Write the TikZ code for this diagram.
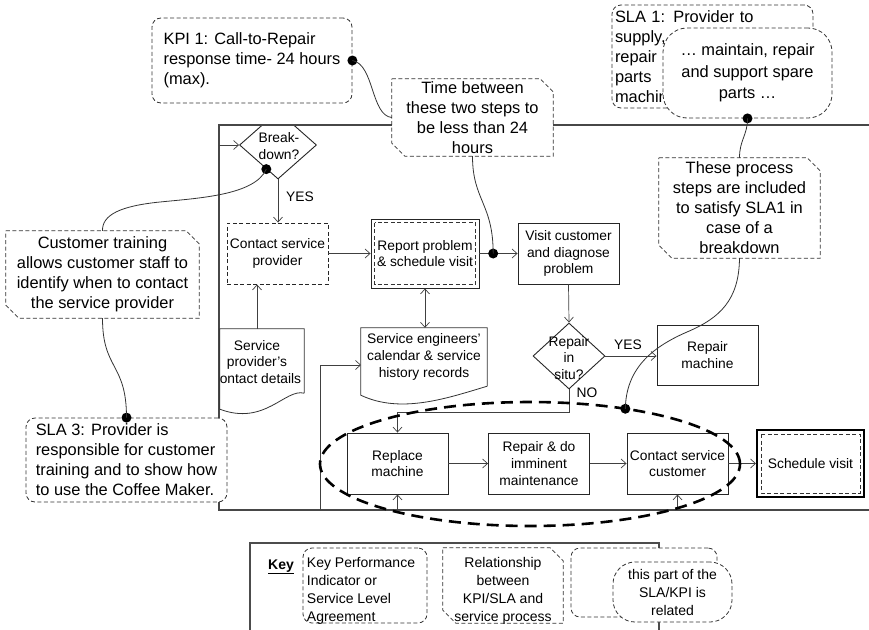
\documentclass[tikz,border=0pt]{standalone}
\usepackage{fontspec}
\setmainfont{Liberation Sans}
\usetikzlibrary{arrows.meta,calc,shapes.geometric}
\newcommand\procfont{\fontsize{13.8}{16.8}\selectfont}
\newcommand\callfont{\fontsize{16.4}{20}\selectfont}
\newcommand\bubblefont{\fontsize{16.4}{21.5}\selectfont}
\newcommand\keyfont{\fontsize{14}{18}\selectfont}
% dashed outline with the top-right and bottom-left corners cut off
\newcommand\cutframe[1]{\draw[cutline] (#1.north west) -- ([xshift=-13pt]#1.north east) -- ([yshift=-13pt]#1.north east) -- (#1.south east) -- ([xshift=13pt]#1.south west) -- ([yshift=13pt]#1.south west) -- cycle;}
\begin{document}
\begin{tikzpicture}[x=1pt,y=-1pt,
  lnk/.style={draw=black!80,line width=0.8pt},
  framel/.style={draw=black!72,line width=1.4pt},
  arr/.style={draw=black!75,line width=0.7pt,-{Straight Barb[length=5pt,width=9pt]}},
  biarr/.style={draw=black!75,line width=0.7pt,{Straight Barb[length=5pt,width=9pt]}-{Straight Barb[length=5pt,width=9pt]}},
  cdash/.style={dash pattern=on 4pt off 2.5pt},
  proc/.style={draw=black!85,line width=0.9pt,fill=white,minimum width=101pt,minimum height=61pt,inner sep=1pt,align=center,font=\procfont},
  dproc/.style={proc,cdash},
  innerdash/.style={draw=black!80,line width=0.8pt,cdash},
  ptext/.style={inner sep=0pt,align=center,font=\procfont},
  pad/.style={inner sep=0pt},
  dia/.style={draw=black!85,line width=0.9pt,fill=white,diamond,inner sep=0pt},
  callout/.style={draw=black!80,line width=0.8pt,cdash,rounded corners=9pt,fill=white,font=\callfont,align=left,inner sep=0pt},
  cutnode/.style={fill=white,font=\callfont,align=center,inner sep=0pt},
  cutline/.style={draw=black!80,line width=0.8pt,cdash},
  bubble/.style={draw=black!80,line width=0.8pt,cdash,rounded corners=24pt,fill=white,font=\bubblefont,align=center,inner sep=0pt},
  blob/.style={circle,fill=black,inner sep=0pt,minimum size=10pt},
  bigdash/.style={draw=black,line width=2.6pt,dash pattern=on 12pt off 7pt},
]
\useasboundingbox (0,0) rectangle (869,629);

% decision at the top edge of the process frame
\begin{scope}
  \clip (200,125) rectangle (340,200);
  \node[dia,minimum width=77pt,minimum height=68pt] (bd) at (278,145) {};
\end{scope}

% process frame
\coordinate (ftl) at (219,125);
\coordinate (ftr) at (869,125);
\coordinate (fbl) at (219,510);
\coordinate (fbr) at (869,510);
\draw[framel] (ftr) -- (ftl) -- (fbl) -- (fbr);

\node[ptext] (bdt) at (279,146) {Break-\\down?};

% process steps
\node[dproc] (csp) at (277.5,253.5) {Contact service\\provider};
\node[proc,minimum width=108pt,minimum height=69pt] (rep) at (425,253.5) {Report problem\\\& schedule visit};
\draw[innerdash] ([shift={(4pt,-4pt)}]rep.north west) rectangle ([shift={(-4pt,4pt)}]rep.south east);
\node[proc] (visit) at (568.5,253.5) {Visit customer\\and diagnose\\problem};
\node[dia,minimum width=72pt,minimum height=66pt] (ris) at (569,356) {};
\node[ptext] (rist) at (569,358) {Repair\\in\\situ?};
\node[proc,minimum height=60pt] (rm) at (707.5,355) {Repair\\machine};
\node[proc] (repl) at (397.5,463.5) {Replace\\machine};
\node[proc] (rdo) at (539,463.5) {Repair \& do\\imminent\\maintenance};
\node[proc] (csc) at (677.5,463.5) {Contact service\\customer};
\node[proc,draw=black,line width=2pt,minimum width=107pt,minimum height=67pt] (sv) at (810.5,463.5) {Schedule visit};
\draw[innerdash] ([shift={(5pt,-5pt)}]sv.north west) rectangle ([shift={(-5pt,5pt)}]sv.south east);

% documents
\node[pad,minimum width=84pt,minimum height=64pt] (spcd) at (262,361) {};
\begin{scope}
  \clip (220.5,320) rectangle (310,420);
  \node[ptext] (spcdt) at (257,362) {Service\\provider's\\contact details};
\end{scope}
\draw[lnk] (spcd.south east) -- (spcd.north east) -- (spcd.north west) -- ([yshift=-16pt]spcd.south west) .. controls +(45,17) and +(-19,-5) .. (spcd.south east);
\node[pad,minimum width=126pt,minimum height=58pt,font=\procfont,align=center] (cal) at (424,357) {Service engineers’\\calendar \& service\\history records};
\draw[lnk] (cal.south east) -- (cal.north east) -- (cal.north west) -- ([yshift=-9pt]cal.south west) .. controls +(40,19) and +(-40,12) .. (cal.south east);

% flow
\draw[arr] (bd.west -| ftl) -- (bd.west);
\draw[arr] (bd.south) -- (bd.south |- csp.north);
\node[ptext] (yes1) at (300,197) {YES};
\draw[arr] (spcdt.center |- spcd.north) -- (spcdt.center |- csp.south);
\draw[arr] (csp.east) -- (rep.west);
\draw[arr] (rep.east) -- (visit.west);
\draw[biarr] (rep.south) -- (rep.south |- cal.north);
\coordinate (calfeed) at (320,510);
\coordinate (calin) at (361,365);
\draw[arr] (calfeed) |- (calin);
\draw[arr] (visit.south) -- (ris.north);
\draw[arr] (ris.east) -- (ris.east -| rm.west);
\node[ptext] (yes2) at (628,345) {YES};
\draw[arr] (ris.south) -- ++(0,23) -| (repl.north);
\node[ptext] (no) at (587,393) {NO};
\draw[arr] (repl.south |- fbl) -- (repl.south);
\draw[arr] (repl.east) -- (rdo.west);
\draw[arr] (rdo.east) -- (csc.west);
\draw[arr] (csc.south |- fbl) -- (csc.south);
\draw[arr] (csc.east) -- (sv.west);

% group of steps covered by SLA 1
\coordinate (ellc) at (530,464);
\draw[bigdash] (ellc) ellipse [x radius=210pt, y radius=62pt];

% KPI / SLA notes
\node[callout,minimum width=200pt,minimum height=85pt] (kpi) at (252,60.5) {KPI 1: Call-to-Repair\\response time- 24 hours\\(max).};
\node[cutnode,minimum width=161pt,minimum height=77pt] (time) at (472.5,117.5) {Time between\\these two steps to\\be less than 24\\hours};
\cutframe{time}
\node[callout,minimum width=201pt,minimum height=103pt,text width=195pt,inner xsep=3pt] (sla1) at (712.5,56.5) {SLA 1: Provider to\\supply,\\repair\\parts\\machine};
\node[bubble,minimum width=169pt,minimum height=90pt] (bub) at (747.5,73) {… maintain, repair\\and support spare\\parts …};
\node[cutnode,minimum width=161pt,minimum height=100pt] (these) at (739.5,208) {These process\\steps are included\\to satisfy SLA1 in\\case of a\\breakdown};
\cutframe{these}
\node[cutnode,minimum width=193pt,minimum height=87pt] (cust) at (102.5,274.5) {Customer training\\allows customer staff to\\identify when to contact\\the service provider};
\cutframe{cust}
\node[callout,minimum width=201pt,minimum height=84pt] (sla3) at (126.5,460) {SLA 3: Provider is\\responsible for customer\\training and to show how\\to use the Coffee Maker.};

% key
\node[draw=black!70,line width=1.2pt,minimum width=409pt,minimum height=100pt] (key) at (454.5,593) {};
\node[font=\keyfont\bfseries,inner sep=0pt] (keyt) at (281,567) {\underline{Key}};
\node[callout,minimum width=124pt,minimum height=75pt] (k1) at (365,585.5) {};
\node[pad,font=\keyfont,align=left] (k1t) at (361,591) {Key Performance\\Indicator or\\Service Level\\Agreement};
\node[cutnode,minimum width=120pt,minimum height=75pt] (k2) at (503,585.5) {};
\cutframe{k2}
\node[pad,font=\keyfont,align=center] (k2t) at (503,591) {Relationship\\between\\KPI/SLA and\\service process};
\node[callout,minimum width=146pt,minimum height=69pt] (k3a) at (644,582.5) {};
\node[bubble,rounded corners=22pt,minimum width=119pt,minimum height=60pt,font=\keyfont] (k3b) at (672.5,592) {this part of the\\SLA/KPI is\\related};

% links between notes and the process
\node[blob] (d1) at (kpi.east) {};
\node[blob] (d2) at ($(rep.east)!0.36!(visit.west)$) {};
\node[blob] (d3) at (bub.south) {};
\node[blob] (d4) at ($(bd.west)!0.7!(bd.south)$) {};
\node[blob] (d5) at ($(ellc)+(-63:210 and 62)$) {};
\node[blob] (d6) at (sla3.north) {};
\draw[lnk] (d1.center) .. controls +(22,4) and +(-21,-2) .. (time.west);
\draw[lnk] (time.south) .. controls +(0,44) and +(0,-50) .. (d2.center);
\draw[lnk] (d3.center) .. controls +(0,17) and +(0,-18) .. (these.north);
\draw[lnk] (these.south) .. controls (739,300) and (720,318) .. (687,332) .. controls (650,348) and (626,370) .. (d5.center);
\draw[lnk] (d4.center) .. controls (255,195) and (200,198) .. (160,202) .. controls (120,206) and (102,215) .. (cust.north);
\draw[lnk] (cust.south) .. controls +(0,52) and +(0,-55) .. (d6.center);
\end{tikzpicture}
\end{document}
